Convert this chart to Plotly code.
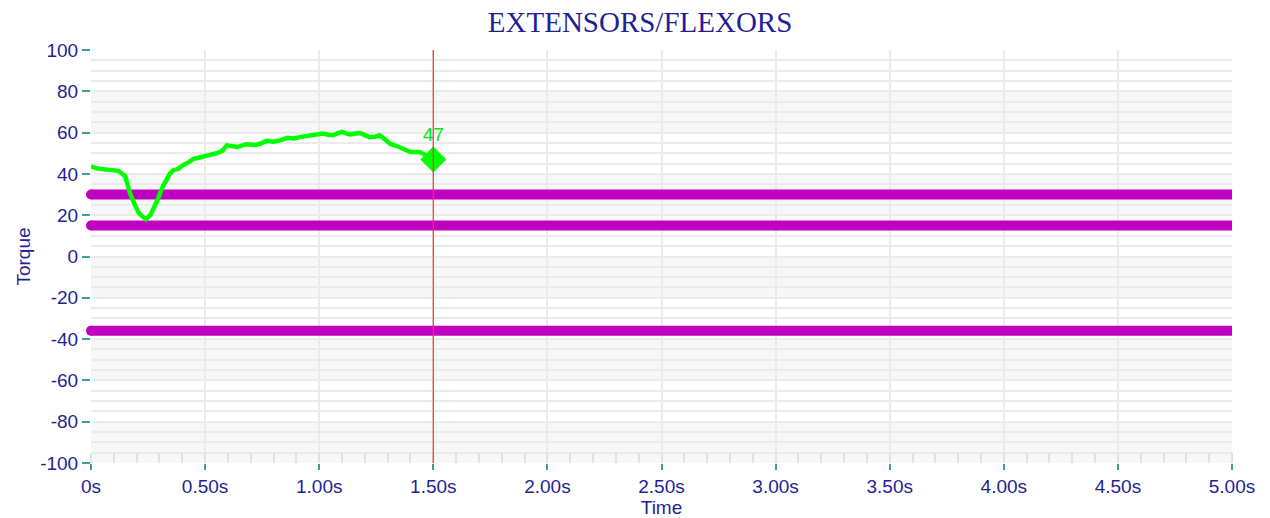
import plotly.graph_objects as go

# Torque trace (seconds, Nm) recorded up to the current cursor
time_s = [0.00, 0.03, 0.06, 0.09, 0.12, 0.15, 0.17, 0.19, 0.21, 0.24, 0.26, 0.29,
          0.315, 0.345, 0.36, 0.38, 0.40, 0.43, 0.45, 0.47, 0.49, 0.52, 0.55, 0.575,
          0.595, 0.62, 0.64, 0.68, 0.70, 0.72, 0.74, 0.77, 0.80, 0.83, 0.86, 0.89,
          0.915, 0.95, 0.97, 1.00, 1.015, 1.04, 1.06, 1.08, 1.10, 1.12, 1.135, 1.16,
          1.18, 1.20, 1.22, 1.245, 1.265, 1.29, 1.31, 1.34, 1.365, 1.385, 1.40, 1.42,
          1.44, 1.46, 1.50]
torque = [43.6, 42.6, 42.2, 42.0, 41.5, 38.8, 31.0, 25.5, 21.0, 18.0, 20.0, 27.0,
          34.0, 40.0, 41.8, 42.3, 44.0, 45.8, 47.3, 47.8, 48.5, 49.2, 50.0, 51.2,
          53.8, 53.2, 53.0, 54.3, 54.0, 54.0, 54.6, 56.0, 55.6, 56.2, 57.5, 57.2,
          57.8, 58.3, 58.7, 59.1, 59.5, 59.0, 58.7, 59.6, 60.3, 59.5, 59.1, 59.6,
          59.8, 58.8, 57.8, 58.0, 58.7, 56.5, 54.6, 53.5, 52.2, 51.6, 50.6, 50.6,
          50.6, 49.5, 47.0]

cursor_time = 1.5
cursor_value = 47

# Reference threshold levels
threshold_levels = [30, 15, -36]
x_span = [0, 5]

y_ticks = [-100, -80, -60, -40, -20, 0, 20, 40, 60, 80, 100]
y_tick_labels = ["-100", "-80", "-60", "-40", "-20", "0", "20", "40", "60", "80", "100"]
x_ticks = [0, 0.5, 1.0, 1.5, 2.0, 2.5, 3.0, 3.5, 4.0, 4.5, 5.0]
x_tick_labels = ["0s", "0.50s", "1.00s", "1.50s", "2.00s", "2.50s",
                 "3.00s", "3.50s", "4.00s", "4.50s", "5.00s"]

NAVY = "#1f1f96"
TEAL = "#3f9f9f"
GRID = "#ebebeb"
SANS = "Liberation Sans, Arial, sans-serif"

fig = go.Figure()

for level in threshold_levels:
    fig.add_trace(go.Scatter(
        x=x_span, y=[level, level], mode="lines",
        line=dict(color="#c000c0", width=10),
        hoverinfo="skip", showlegend=False,
    ))
    # rounded cap at the start of each threshold bar
    fig.add_trace(go.Scatter(
        x=[x_span[0]], y=[level], mode="markers",
        marker=dict(symbol="circle", size=10, color="#c000c0"),
        cliponaxis=False, hoverinfo="skip", showlegend=False,
    ))

fig.add_trace(go.Scatter(
    x=time_s, y=torque, mode="lines",
    line=dict(color="#00ff00", width=4.5),
    showlegend=False,
))

fig.add_trace(go.Scatter(
    x=[cursor_time], y=[cursor_value], mode="markers+text",
    marker=dict(symbol="diamond", size=20, color="#00ff00"),
    text=[str(cursor_value)], textposition="top center",
    textfont=dict(color="#00ee00", size=19, family=SANS),
    showlegend=False,
))

# Alternating horizontal bands behind the grid
shapes = []
for lo in y_ticks[:-1:2]:
    shapes.append(dict(type="rect", xref="paper", yref="y", x0=0, x1=1,
                       y0=lo, y1=lo + 20, fillcolor="#f7f7f7",
                       line=dict(width=0), layer="below"))
# Cursor line
shapes.append(dict(type="line", xref="x", yref="paper", x0=cursor_time, x1=cursor_time,
                   y0=0, y1=1, line=dict(color="#ff3030", width=1.2)))

fig.update_layout(
    width=1270, height=518,
    margin=dict(l=91, r=38, t=50, b=55),
    paper_bgcolor="white", plot_bgcolor="white",
    shapes=shapes,
    title=dict(text="EXTENSORS/FLEXORS", x=0.504, xanchor="center", y=0.957, yanchor="middle",
               font=dict(family="Liberation Serif, Times New Roman, serif", size=29, color=NAVY)),
    font=dict(family=SANS, color=NAVY, size=19),
    xaxis=dict(
        range=x_span, tickvals=x_ticks, ticktext=x_tick_labels,
        ticks="outside", ticklen=6, tickwidth=2, tickcolor=TEAL,
        tickfont=dict(size=19, color=NAVY),
        showgrid=True, gridcolor=GRID, gridwidth=1.5,
        zeroline=False, showline=False, automargin=False,
        minor=dict(dtick=0.1, ticks="inside", ticklen=10, tickcolor="#e2e2e2",
                   tickwidth=1.5, showgrid=False),
        title=dict(text="Time", font=dict(size=19, color=NAVY), standoff=8),
    ),
    yaxis=dict(
        range=[-100, 100], tickvals=y_ticks, ticktext=y_tick_labels,
        ticks="outside", ticklen=8, tickwidth=2, tickcolor=TEAL,
        tickfont=dict(size=19, color=NAVY),
        showgrid=True, gridcolor=GRID, gridwidth=1.5,
        zeroline=False, showline=False, automargin=False,
        minor=dict(dtick=5, showgrid=True, gridcolor=GRID, gridwidth=1.5),
        title=dict(text="Torque", font=dict(size=19, color=NAVY), standoff=4),
    ),
)

fig.write_html("out.html")
